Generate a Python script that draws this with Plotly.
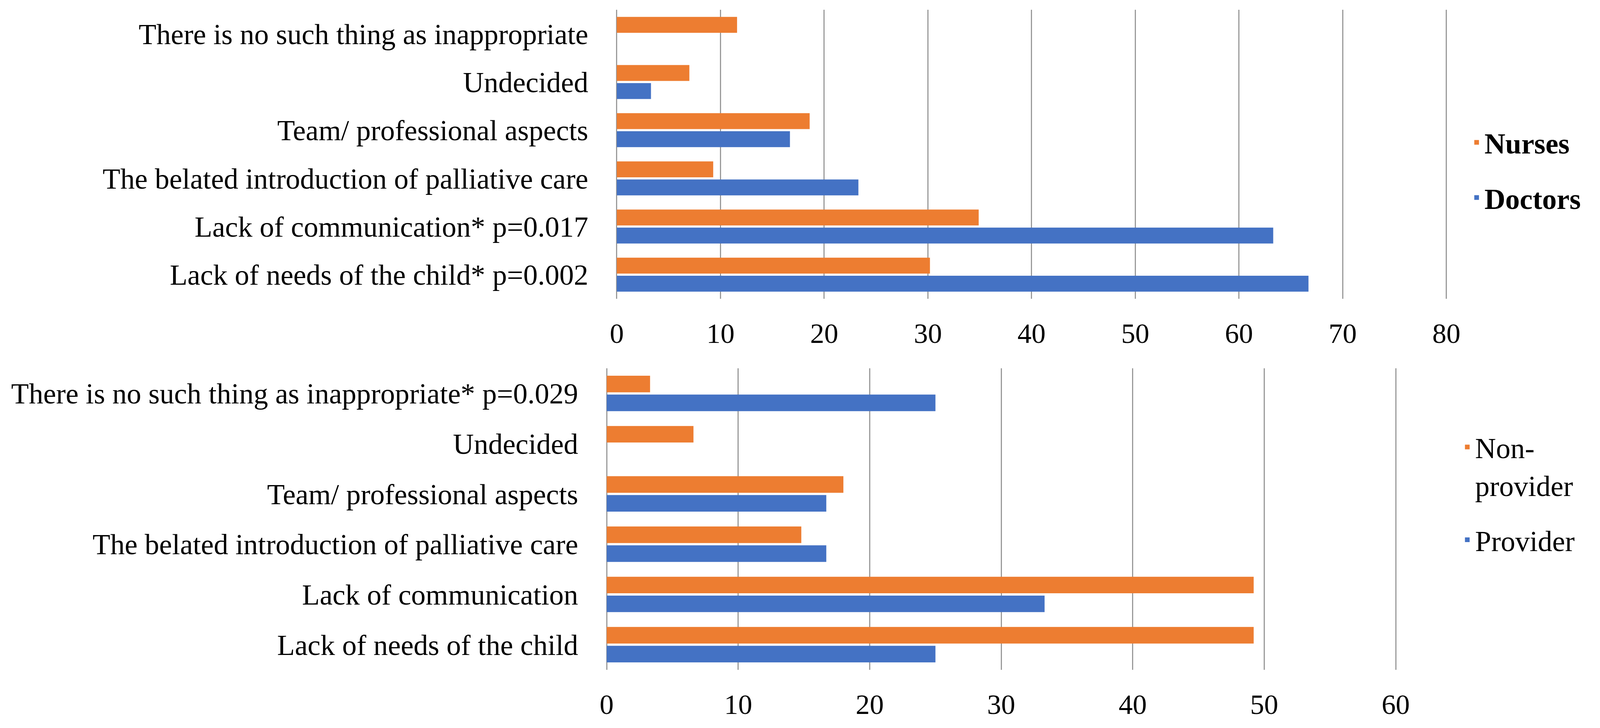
import plotly.graph_objects as go

# ---- data ----
categories_top = [
    "There is no such thing as inappropriate",
    "Undecided",
    "Team/ professional aspects",
    "The belated introduction of palliative care",
    "Lack of communication* p=0.017",
    "Lack of needs of the child* p=0.002",
]
nurses = [11.6, 7.0, 18.6, 9.3, 34.9, 30.2]
doctors = [0, 3.3, 16.7, 23.3, 63.3, 66.7]

categories_bottom = [
    "There is no such thing as inappropriate* p=0.029",
    "Undecided",
    "Team/ professional aspects",
    "The belated introduction of palliative care",
    "Lack of communication",
    "Lack of needs of the child",
]
non_provider = [3.3, 6.6, 18.0, 14.8, 49.2, 49.2]
provider = [25.0, 0, 16.7, 16.7, 33.3, 25.0]

ticks_top = [0, 10, 20, 30, 40, 50, 60, 70, 80]
ticks_bottom = [0, 10, 20, 30, 40, 50, 60]

ORANGE = "#ED7D31"
BLUE = "#4472C4"
GRID = "#9A9A9A"
FONT = "Liberation Serif"
FS_CAT = 74
FS_TICK = 72
FS_LEG = 74

W, H = 4236, 1864

# pixel layout of the two plot areas (x of value 0, pixels per unit)
top_x0, top_ppu, top_max = 1633, 27.775, 80.25
bot_x0, bot_ppu, bot_max = 1606, 35.22, 60.25

fig = go.Figure()
fig.add_trace(go.Bar(y=categories_top, x=nurses, orientation="h", name="Nurses",
                     marker=dict(color=ORANGE, line=dict(width=0)),
                     xaxis="x", yaxis="y", legend="legend", legendgroup="n"))
fig.add_trace(go.Bar(y=categories_top, x=doctors, orientation="h", name="Doctors",
                     marker=dict(color=BLUE, line=dict(width=0)),
                     xaxis="x", yaxis="y", legend="legend", legendgroup="d"))
fig.add_trace(go.Bar(y=categories_bottom, x=non_provider, orientation="h", name="Non-<br>provider",
                     marker=dict(color=ORANGE, line=dict(width=0)),
                     xaxis="x2", yaxis="y2", legend="legend2", legendgroup="np"))
fig.add_trace(go.Bar(y=categories_bottom, x=provider, orientation="h", name="Provider",
                     marker=dict(color=BLUE, line=dict(width=0)),
                     xaxis="x2", yaxis="y2", legend="legend2", legendgroup="p"))

xcommon = dict(showgrid=True, gridcolor=GRID, gridwidth=3, zeroline=True,
               zerolinecolor=GRID, zerolinewidth=3, showline=False, ticks="",
               tickfont=dict(family=FONT, size=FS_TICK, color="black"),
               ticklabelstandoff=40, fixedrange=True)
ycommon = dict(showgrid=False, zeroline=False, showline=False, ticks="",
               autorange="reversed", type="category",
               tickfont=dict(family=FONT, size=FS_CAT, color="black"),
               ticklabelstandoff=72, fixedrange=True)

fig.update_layout(
    width=W, height=H,
    margin=dict(l=0, r=0, t=0, b=0),
    paper_bgcolor="white", plot_bgcolor="white",
    barmode="group", bargap=0.25, bargroupgap=0.12,
    font=dict(family=FONT, size=FS_CAT, color="black"),
    xaxis=dict(xcommon, domain=[top_x0 / W, (top_x0 + top_max * top_ppu) / W],
               range=[0, top_max], tickvals=ticks_top, anchor="y"),
    yaxis=dict(ycommon, domain=[1 - 765 / H, 1 - 25 / H], anchor="x"),
    xaxis2=dict(xcommon, domain=[bot_x0 / W, (bot_x0 + bot_max * bot_ppu) / W],
                range=[0, bot_max], tickvals=ticks_bottom, anchor="y2"),
    yaxis2=dict(ycommon, domain=[1 - 1715 / H, 1 - 943 / H], anchor="x2"),
    legend=dict(x=3915 / W, xanchor="left", y=1 - 310 / H, yanchor="top",
                font=dict(family=FONT, size=FS_LEG, color="black", weight="bold"),
                tracegroupgap=42, bgcolor="rgba(0,0,0,0)", borderwidth=0),
    legend2=dict(x=3890 / W, xanchor="left", y=1 - 1090 / H, yanchor="top",
                 font=dict(family=FONT, size=FS_LEG, color="black"),
                 tracegroupgap=42, valign="top", bgcolor="rgba(0,0,0,0)", borderwidth=0),
    showlegend=True,
)

post = """
var gd = document.getElementById('{plot_id}');
document.documentElement.style.margin = '0';
document.documentElement.style.padding = '0';
document.body.style.margin = '0';
document.body.style.padding = '0';
document.body.style.overflow = 'hidden';
var w = window.innerWidth, h = window.innerHeight;
gd.style.width = w + 'px';
gd.style.height = h + 'px';
Plotly.relayout(gd, {width: w, height: h});
"""

fig.write_html("out.html", config={"displayModeBar": False}, post_script=post)
